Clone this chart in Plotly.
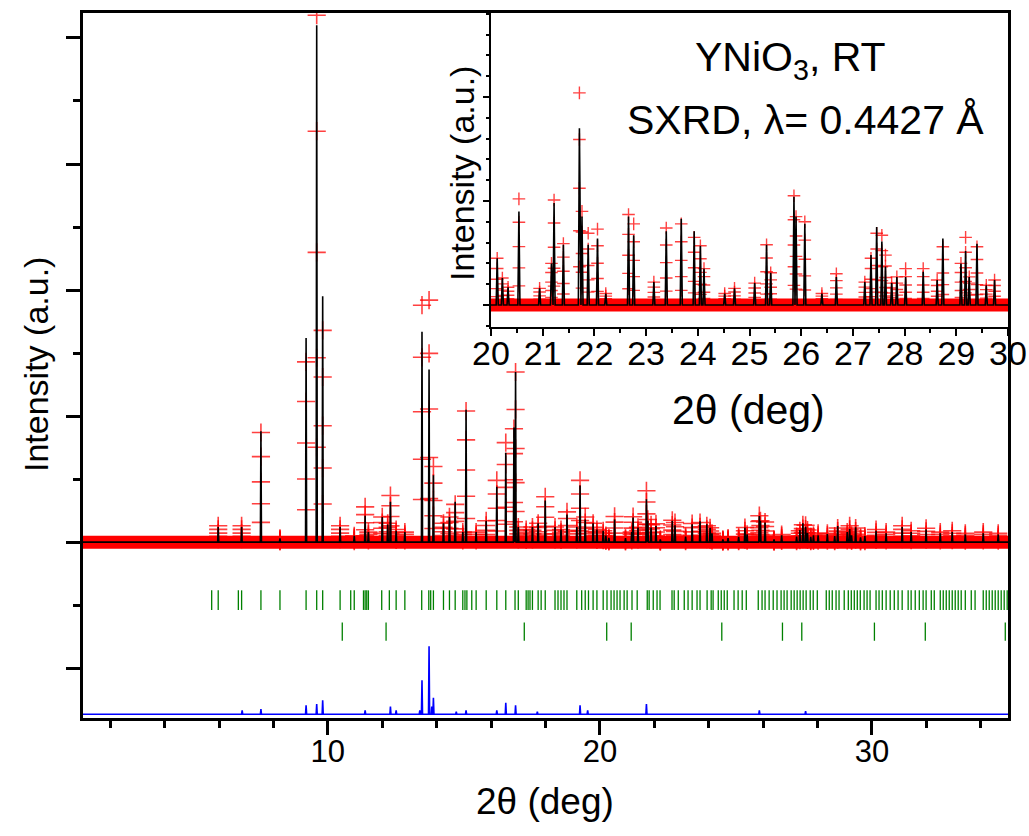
import plotly.graph_objects as go

# ---------------- data ----------------
# peak positions (2theta, deg), observed and calculated maxima (counts)
peak_pos = [5.97, 6.83, 7.54, 8.24, 9.20, 9.59, 9.81, 10.45, 10.97, 11.37, 11.49,
            12.00, 12.20, 12.30, 12.51, 12.83, 13.46, 13.72, 13.88, 14.25, 14.47,
            14.68, 14.96, 15.08, 15.45, 15.82, 16.21, 16.54, 16.84, 16.90, 17.00,
            17.29, 17.52, 17.73, 17.99, 18.35, 18.57, 18.79, 19.15, 19.27, 19.46,
            19.75, 19.89,
            20.12, 20.22, 20.33, 20.54, 20.94, 21.17, 21.22, 21.40, 21.71, 21.76,
            21.88, 22.06, 22.22, 22.66, 22.76, 23.15, 23.39, 23.68, 23.93, 24.05,
            24.12, 24.52, 24.71, 25.10, 25.33, 25.41, 25.86, 25.90, 26.07, 26.40,
            26.68, 27.23, 27.35, 27.46, 27.56, 27.63, 27.75, 27.85, 28.02, 28.36,
            28.63, 28.74, 29.09, 29.18, 29.25, 29.40, 29.58, 29.74,
            30.15, 30.52, 31.11, 31.44, 31.99, 32.51, 32.95, 33.43, 34.09, 34.64]
peak_obs = [1300, 1300, 8700, 300, 14300, 41800, 16800, 1300, 500, 2800, 800,
            2000, 1500, 3700, 1000, 800, 18800, 19200, 6000, 1500, 2000,
            3000, 800, 10400, 800, 1700, 4900, 7900, 9000, 13500, 1200,
            1000, 1200, 1500, 3600, 1200, 1000, 2400, 1200, 4900, 2000,
            1500, 1000,
            900, 520, 340, 2040, 320, 800, 2020, 1180, 4080, 1800,
            1380, 1460, 220, 1740, 1560, 440, 1480, 1560, 1300, 1140,
            700, 220, 320, 420, 1160, 620, 2100, 1700, 1600, 220,
            600, 440, 900, 1380, 1340, 960, 420, 540, 700, 700,
            480, 1120, 800, 1300, 540, 1120, 380, 480,
            1000, 800, 1300, 900, 1100, 800, 900, 700, 800, 700]
peak_calc = [1200, 1200, 8800, 300, 16200, 41000, 19500, 1200, 500, 2100, 800,
             2000, 1400, 3200, 900, 800, 16700, 13700, 5300, 1500, 2000,
             3200, 800, 10500, 800, 1700, 4400, 7100, 9100, 13500, 1200,
             1000, 1200, 1500, 3300, 1200, 1000, 2200, 1200, 4500, 1800,
             1500, 1000,
             900, 520, 340, 1800, 320, 800, 1960, 1160, 3400, 1700,
             1160, 1280, 220, 1700, 1340, 440, 1420, 1660, 1420, 1140,
             700, 220, 320, 420, 1160, 620, 2080, 1700, 1560, 220,
             540, 440, 960, 1500, 1220, 740, 420, 540, 540, 640,
             480, 1280, 800, 1040, 540, 1180, 380, 480,
             900, 700, 1200, 800, 1000, 700, 800, 600, 700, 600]

# difference curve (obs - calc) spikes, counts, and its offset level
diff_offset = -13650
diff_pos = [6.85, 7.54, 9.20, 9.59, 9.81, 11.37, 12.30, 12.51, 13.38, 13.46,
            13.72, 13.82, 13.88, 14.72, 15.08, 16.21, 16.54, 16.90, 17.70,
            19.27, 19.55, 21.71, 25.86, 27.56]
diff_val = [300, 400, 700, 800, 1100, 300, 600, 300, 300, 2700,
            5400, 600, 1300, 200, 300, 300, 900, 700, 200,
            700, 300, 800, 300, 250]

# Bragg reflection positions, phase 1 (YNiO3) and phase 2
hkl_phase1 = [5.73, 5.97, 6.71, 6.83, 7.54, 8.24, 9.20, 9.59, 9.81, 10.45, 10.84,
              10.97, 11.31, 11.37, 11.43, 11.49, 11.98, 12.26, 12.51, 12.83, 13.45,
              13.71, 13.78, 13.88, 14.25, 14.47, 14.68, 14.96, 15.04, 15.11, 15.29,
              15.45, 15.82, 16.21, 16.54, 16.88, 17.00, 17.29, 17.36, 17.43, 17.52,
              17.73, 17.84, 17.99, 18.35, 18.46, 18.57, 18.68, 18.79, 19.15, 19.33,
              19.46, 19.58, 19.75, 19.89,
              20.12, 20.26, 20.41, 20.52, 20.63, 20.74, 20.89, 21.00, 21.18, 21.37,
              21.74, 21.81, 21.96, 22.10, 22.21, 22.65, 22.73, 22.88, 23.10, 23.24,
              23.39, 23.57, 23.68, 23.94, 24.09, 24.16, 24.35, 24.46, 24.57, 24.68,
              24.93, 25.08, 25.23, 25.38, 25.82, 25.96, 26.07, 26.22, 26.37, 26.51,
              26.66, 26.77, 26.88, 27.03, 27.14, 27.25, 27.36, 27.47, 27.58, 27.73,
              27.84, 27.99, 28.32, 28.43, 28.54, 28.68, 28.79, 28.98, 29.13, 29.24,
              29.35, 29.46, 29.57, 29.71, 29.82, 29.93, 30.15, 30.26, 30.38, 30.52,
              30.67, 30.82, 30.96, 31.11, 31.33, 31.44, 31.59, 31.74, 31.88, 31.99,
              32.18, 32.29, 32.51, 32.62, 32.73, 32.84, 32.95, 33.06, 33.17, 33.28,
              33.43, 33.65, 33.79, 34.09, 34.20, 34.31, 34.42, 34.53, 34.64, 34.75,
              34.86, 34.97]
hkl_phase2 = [10.53, 12.14, 17.22, 20.25, 21.15, 24.48, 26.71, 27.42, 30.09, 31.96, 34.90]

x_main_range = [1, 35]
x_inset_range = [20, 30]

# ---------------- helpers ----------------
W = 0.02  # half width of drawn peaks (deg)
OBS_FRACTIONS = [1.0, 0.78, 0.55, 0.35, 0.18]


def profile(pos, heights, lo, hi, base=0.0):
    xs, ys = [lo], [base]
    for p, h in sorted(zip(pos, heights)):
        xs += [p - W, p, p + W]
        ys += [base, base + h, base]
    xs.append(hi)
    ys.append(base)
    return xs, ys


def obs_points(pos, heights, lo, hi):
    xs, ys = [], []
    for p, h in zip(pos, heights):
        if lo <= p <= hi:
            for f in OBS_FRACTIONS:
                xs.append(p)
                ys.append(h * f)
    return xs, ys


RED = "#ff0000"
FONT = "Liberation Sans, Arial, sans-serif"

fig = go.Figure()

# ---------- main panel ----------
calc_x, calc_y = profile(peak_pos, peak_calc, *x_main_range)
ox, oy = obs_points(peak_pos, peak_obs, *x_main_range)
dx, dy = profile(diff_pos, diff_val, *x_main_range, base=diff_offset)

fig.add_trace(go.Scatter(x=x_main_range, y=[0, 0], mode="lines",
                         line=dict(color=RED, width=13), hoverinfo="skip",
                         xaxis="x", yaxis="y"))
fig.add_trace(go.Scatter(x=ox, y=oy, mode="markers",
                         marker=dict(symbol="cross-thin", size=13,
                                     line=dict(color="rgba(255,0,0,0.75)", width=1.6)),
                         xaxis="x", yaxis="y"))
fig.add_trace(go.Scatter(x=calc_x, y=calc_y, mode="lines",
                         line=dict(color="black", width=1.6), xaxis="x", yaxis="y"))
fig.add_trace(go.Scatter(x=hkl_phase1, y=[-4600] * len(hkl_phase1), mode="markers",
                         marker=dict(symbol="line-ns", size=14,
                                     line=dict(color="#008000", width=1.3)),
                         xaxis="x", yaxis="y"))
fig.add_trace(go.Scatter(x=hkl_phase2, y=[-7100] * len(hkl_phase2), mode="markers",
                         marker=dict(symbol="line-ns", size=13,
                                     line=dict(color="#008000", width=1.3)),
                         xaxis="x", yaxis="y"))
fig.add_trace(go.Scatter(x=dx, y=dy, mode="lines",
                         line=dict(color="#0000ff", width=1.6), xaxis="x", yaxis="y"))

# ---------- inset ----------
icx, icy = profile(peak_pos, peak_calc, *x_inset_range)
iox, ioy = obs_points(peak_pos, peak_obs, *x_inset_range)
fig.add_trace(go.Scatter(x=x_inset_range, y=[0, 0], mode="lines",
                         line=dict(color=RED, width=13), xaxis="x2", yaxis="y2"))
fig.add_trace(go.Scatter(x=iox, y=ioy, mode="markers",
                         marker=dict(symbol="cross-thin", size=9,
                                     line=dict(color="rgba(255,0,0,0.75)", width=1.4)),
                         xaxis="x2", yaxis="y2"))
fig.add_trace(go.Scatter(x=icx, y=icy, mode="lines",
                         line=dict(color="black", width=1.6), xaxis="x2", yaxis="y2"))

# ---------- layout ----------
L, R, T, B = 83, 1008, 13, 718
PW, PH = R - L, B - T


def px(xp):
    return (xp - L) / PW


def py(yp):
    return (B - yp) / PH


main_y_range = [-13950, 41980]
inset_y_range = [-423, 5615]

fig.update_layout(
    width=1029, height=836,
    margin=dict(l=L, r=1029 - R, t=T, b=836 - B, pad=0),
    paper_bgcolor="white", plot_bgcolor="white",
    showlegend=False,
    font=dict(family=FONT, color="black"),
    xaxis=dict(range=x_main_range, domain=[0, 1], anchor="y", automargin=False,
               showline=True, linewidth=3, linecolor="black", mirror=True,
               ticks="outside", ticklen=14, tickwidth=3, tickcolor="black",
               tick0=0, dtick=10, showgrid=False, zeroline=False,
               ticklabelstandoff=-10,
               tickfont=dict(size=31, family=FONT),
               minor=dict(dtick=2, tick0=0, ticks="outside", ticklen=7,
                          tickwidth=3, tickcolor="black", showgrid=False)),
    yaxis=dict(range=main_y_range, domain=[0, 1], anchor="x", automargin=False,
               showline=True, linewidth=3, linecolor="black", mirror=True,
               ticks="outside", ticklen=14, tickwidth=3, tickcolor="black",
               tick0=0, dtick=10000, showticklabels=False, showgrid=False,
               zeroline=False,
               minor=dict(dtick=5000, tick0=0, ticks="outside", ticklen=7,
                          tickwidth=3, tickcolor="black", showgrid=False)),
    xaxis3=dict(range=x_main_range, overlaying="x", anchor="y", side="top",
                automargin=False,
                ticks="inside", ticklen=14, tickwidth=3, tickcolor="black",
                tick0=0, dtick=10, showticklabels=False, showline=False,
                showgrid=False, zeroline=False,
                minor=dict(dtick=2, tick0=0, ticks="inside", ticklen=7,
                           tickwidth=3, tickcolor="black", showgrid=False)),
    yaxis3=dict(range=main_y_range, overlaying="y", anchor="x", side="right",
                automargin=False,
                ticks="inside", ticklen=14, tickwidth=3, tickcolor="black",
                tick0=0, dtick=10000, showticklabels=False, showline=False,
                showgrid=False, zeroline=False,
                minor=dict(dtick=5000, tick0=0, ticks="inside", ticklen=7,
                           tickwidth=3, tickcolor="black", showgrid=False)),
    xaxis2=dict(range=x_inset_range, domain=[px(491), 1], anchor="y2",
                automargin=False,
                showline=True, linewidth=2, linecolor="black",
                ticks="outside", ticklen=7, tickwidth=2, tickcolor="black",
                tick0=0, dtick=1, showgrid=False, zeroline=False,
                ticklabelstandoff=-12,
                tickfont=dict(size=34, family=FONT),
                minor=dict(dtick=0.5, tick0=0, ticks="outside", ticklen=4,
                           tickwidth=2, tickcolor="black", showgrid=False)),
    yaxis2=dict(range=inset_y_range, domain=[py(327), 1], anchor="x2",
                automargin=False,
                showline=True, linewidth=2, linecolor="black",
                ticks="outside", ticklen=6, tickwidth=2, tickcolor="black",
                tick0=0, dtick=2000, showticklabels=False, showgrid=False,
                zeroline=False,
                minor=dict(dtick=400, tick0=0, ticks="outside", ticklen=3,
                           tickwidth=2, tickcolor="black", showgrid=False)),
)

ann = dict(xref="paper", yref="paper", showarrow=False,
           xanchor="center", yanchor="middle")
fig.add_annotation(text="2θ (deg)", x=px(545), y=py(801),
                   font=dict(size=37, family=FONT), **ann)
fig.add_annotation(text="Intensity (a.u.)", x=px(36), y=py(365), textangle=-90,
                   font=dict(size=34, family=FONT), **ann)
fig.add_annotation(text="2θ (deg)", x=px(748), y=py(410),
                   font=dict(size=41, family=FONT), **ann)
fig.add_annotation(text="Intensity (a.u.)", x=px(462), y=py(174), textangle=-90,
                   font=dict(size=34, family=FONT), **ann)
fig.add_annotation(text="YNiO<sub>3</sub>, RT", x=px(790), y=py(60),
                   font=dict(size=41, family=FONT), **ann)
fig.add_annotation(text="SXRD, λ= 0.4427 Å", x=px(805), y=py(120),
                   font=dict(size=41, family=FONT), **ann)

fig.write_html("out.html", config={"displayModeBar": False},
               post_script="document.body.style.margin='0px';")
